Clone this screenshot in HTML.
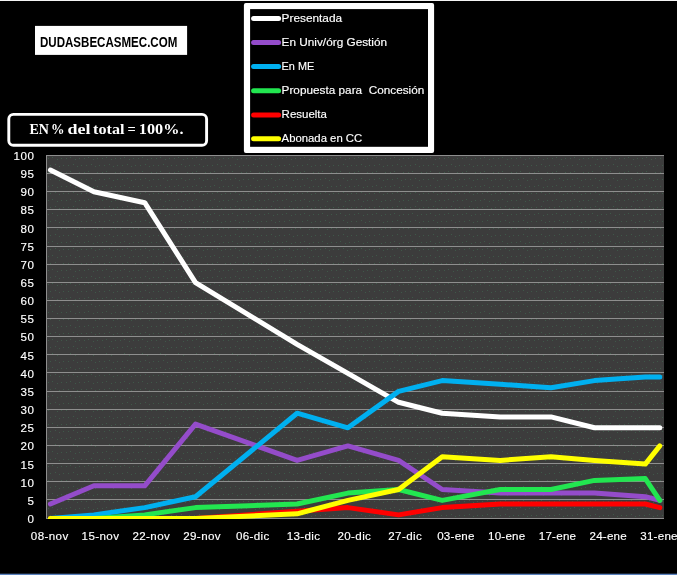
<!DOCTYPE html>
<html lang="es">
<head>
<meta charset="utf-8">
<title>dudasbecasmec.com - EN % del total</title>
<style>
html,body{margin:0;padding:0;background:#000;}
body{width:677px;height:575px;overflow:hidden;}
svg{display:block;}
.ax{font-family:"Liberation Sans",sans-serif;font-size:11.6px;fill:#fff;stroke:#fff;stroke-width:.15;}
.lg{white-space:pre;font-family:"Liberation Sans",sans-serif;font-size:10.9px;fill:#fff;stroke:#fff;stroke-width:.15;}
.ttl{font-family:"Liberation Sans",sans-serif;font-weight:bold;font-size:15.2px;fill:#000;}
.pct{font-family:"Liberation Serif",serif;font-weight:bold;font-size:14.6px;fill:#fff;}
.ln{fill:none;stroke-width:5;stroke-linejoin:round;stroke-linecap:round;}
</style>
</head>
<body>
<svg width="677" height="575" viewBox="0 0 677 575">
<defs>
<pattern id="dots" x="46" y="155" width="18" height="14" patternUnits="userSpaceOnUse">
<rect width="18" height="14" fill="#3c3c3c"/>
<rect x="2" y="3" width="1" height="1" fill="#437a58" fill-opacity=".45"/>
<rect x="6" y="2" width="1" height="1" fill="#437a58" fill-opacity=".45"/>
<rect x="11" y="4" width="1" height="1" fill="#437a58" fill-opacity=".45"/>
<rect x="15" y="3" width="1" height="1" fill="#437a58" fill-opacity=".45"/>
<rect x="4" y="10" width="1" height="1" fill="#437a58" fill-opacity=".45"/>
<rect x="9" y="9" width="1" height="1" fill="#437a58" fill-opacity=".45"/>
<rect x="13" y="11" width="1" height="1" fill="#437a58" fill-opacity=".45"/>
<rect x="17" y="10" width="1" height="1" fill="#437a58" fill-opacity=".45"/>
</pattern>
</defs>
<rect x="0" y="0" width="677" height="575" fill="#000"/>
<rect x="0" y="0" width="677" height="1" fill="#f4f4f4"/>
<rect x="0" y="573.7" width="677" height="1.3" fill="#5a82be"/>

<rect x="46" y="155" width="618" height="364" fill="url(#dots)"/>
<path d="M46 518.5H664M46 499.5H664M46 481.5H664M46 463.5H664M46 445.5H664M46 427.5H664M46 409.5H664M46 391.5H664M46 372.5H664M46 354.5H664M46 336.5H664M46 318.5H664M46 300.5H664M46 282.5H664M46 264.5H664M46 246.5H664M46 227.5H664M46 209.5H664M46 191.5H664M46 173.5H664M46 155.5H664" stroke="#8e8e8e" stroke-width="1" fill="none"/>
<path d="M46.5 155V519" stroke="#8e8e8e" stroke-width="1" fill="none"/>
<g class="ax" text-anchor="end">
<text x="33.9" y="523.0" textLength="6.5" lengthAdjust="spacing">0</text>
<text x="33.9" y="504.8" textLength="6.5" lengthAdjust="spacing">5</text>
<text x="33.9" y="486.6" textLength="13.4" lengthAdjust="spacing">10</text>
<text x="33.9" y="468.5" textLength="13.4" lengthAdjust="spacing">15</text>
<text x="33.9" y="450.3" textLength="13.4" lengthAdjust="spacing">20</text>
<text x="33.9" y="432.2" textLength="13.4" lengthAdjust="spacing">25</text>
<text x="33.9" y="414.1" textLength="13.4" lengthAdjust="spacing">30</text>
<text x="33.9" y="395.9" textLength="13.4" lengthAdjust="spacing">35</text>
<text x="33.9" y="377.8" textLength="13.4" lengthAdjust="spacing">40</text>
<text x="33.9" y="359.6" textLength="13.4" lengthAdjust="spacing">45</text>
<text x="33.9" y="341.4" textLength="13.4" lengthAdjust="spacing">50</text>
<text x="33.9" y="323.3" textLength="13.4" lengthAdjust="spacing">55</text>
<text x="33.9" y="305.2" textLength="13.4" lengthAdjust="spacing">60</text>
<text x="33.9" y="287.0" textLength="13.4" lengthAdjust="spacing">65</text>
<text x="33.9" y="268.8" textLength="13.4" lengthAdjust="spacing">70</text>
<text x="33.9" y="250.7" textLength="13.4" lengthAdjust="spacing">75</text>
<text x="33.9" y="232.6" textLength="13.4" lengthAdjust="spacing">80</text>
<text x="33.9" y="214.4" textLength="13.4" lengthAdjust="spacing">85</text>
<text x="33.9" y="196.2" textLength="13.4" lengthAdjust="spacing">90</text>
<text x="33.9" y="178.1" textLength="13.4" lengthAdjust="spacing">95</text>
<text x="33.9" y="159.9" textLength="20.3" lengthAdjust="spacing">100</text>
</g>
<g class="ax" text-anchor="middle">
<text x="49.5" y="539.9" textLength="37.4" lengthAdjust="spacing">08-nov</text>
<text x="100.3" y="539.9" textLength="37.4" lengthAdjust="spacing">15-nov</text>
<text x="151.1" y="539.9" textLength="37.4" lengthAdjust="spacing">22-nov</text>
<text x="201.9" y="539.9" textLength="37.4" lengthAdjust="spacing">29-nov</text>
<text x="252.6" y="539.9" textLength="33.4" lengthAdjust="spacing">06-dic</text>
<text x="303.4" y="539.9" textLength="33.4" lengthAdjust="spacing">13-dic</text>
<text x="354.2" y="539.9" textLength="33.4" lengthAdjust="spacing">20-dic</text>
<text x="405.0" y="539.9" textLength="33.4" lengthAdjust="spacing">27-dic</text>
<text x="455.8" y="539.9" textLength="37.3" lengthAdjust="spacing">03-ene</text>
<text x="506.6" y="539.9" textLength="37.3" lengthAdjust="spacing">10-ene</text>
<text x="557.4" y="539.9" textLength="37.3" lengthAdjust="spacing">17-ene</text>
<text x="608.1" y="539.9" textLength="37.3" lengthAdjust="spacing">24-ene</text>
<text x="658.9" y="539.9" textLength="37.3" lengthAdjust="spacing">31-ene</text>
</g>
<clipPath id="pc"><rect x="46" y="150" width="620" height="369"/></clipPath>
<g class="ln" clip-path="url(#pc)">
<polyline points="50.4,170.0 93.9,191.8 144.7,202.7 195.5,282.6 297.1,344.3 347.9,373.3 398.6,402.3 442.2,413.2 500.2,416.9 551.0,416.9 594.5,427.8 645.3,427.8 659.8,427.8" stroke="#ffffff"/>
<polyline points="50.4,504.0 93.9,485.8 144.7,485.8 195.5,424.1 297.1,460.4 347.9,445.9 398.6,460.4 442.2,489.5 500.2,493.1 551.0,493.1 594.5,493.1 645.3,496.7 659.8,500.4" stroke="#944cca"/>
<polyline points="50.4,518.5 93.9,514.9 144.7,507.6 195.5,496.7 297.1,413.2 347.9,427.8 398.6,391.4 442.2,380.6 500.2,384.2 551.0,387.8 594.5,380.6 645.3,376.9 659.8,376.9" stroke="#00b0f0"/>
<polyline points="50.4,518.5 93.9,518.5 144.7,514.9 195.5,507.6 297.1,504.0 347.9,493.1 398.6,489.5 442.2,500.4 500.2,489.5 551.0,489.5 594.5,480.4 645.3,478.6 659.8,500.4" stroke="#22e650"/>
<polyline points="50.4,518.5 93.9,518.5 144.7,518.5 195.5,518.5 297.1,511.2 347.9,507.6 398.6,514.9 442.2,507.6 500.2,504.0 551.0,504.0 594.5,504.0 645.3,504.0 659.8,507.6" stroke="#ff0000"/>
<polyline points="50.4,518.5 93.9,518.5 144.7,518.5 195.5,518.5 297.1,513.8 347.9,500.4 398.6,489.5 442.2,456.8 500.2,460.4 551.0,456.8 594.5,460.4 645.3,464.1 659.8,445.9" stroke="#ffff00"/>
</g>
<rect x="35" y="25.9" width="152.1" height="29" fill="#fff"/>
<text class="ttl" x="40" y="47.1" textLength="137.3" lengthAdjust="spacingAndGlyphs">DUDASBECASMEC.COM</text>
<rect x="8.8" y="114.35" width="197.8" height="30.95" rx="4.6" ry="4.6" fill="#000" stroke="#fff" stroke-width="2.9"/>
<g class="pct">
<text x="29.50" y="133.5" textLength="19.50" lengthAdjust="spacingAndGlyphs">EN</text>
<text x="51.10" y="133.5" textLength="13.50" lengthAdjust="spacingAndGlyphs">%</text>
<text x="67.40" y="133.5" textLength="23.00" lengthAdjust="spacingAndGlyphs">del</text>
<text x="93.10" y="133.5" textLength="31.40" lengthAdjust="spacingAndGlyphs">total</text>
<text x="127.55" y="133.5" textLength="8.25" lengthAdjust="spacingAndGlyphs">=</text>
<text x="138.85" y="133.5" textLength="44.65" lengthAdjust="spacingAndGlyphs">100%.</text>
</g>
<rect x="243.9" y="2.9" width="190.2" height="150.05" rx="2" ry="2" fill="#fff"/><rect x="250.1" y="9.1" width="177.9" height="137.7" fill="#000"/>
<g class="ln" style="stroke-width:5">
<path d="M253.6 18.5H278.6" stroke="#ffffff"/>
<path d="M253.6 42.5H278.6" stroke="#944cca"/>
<path d="M253.6 66.6H278.6" stroke="#00b0f0"/>
<path d="M253.6 90.8H278.6" stroke="#22e650"/>
<path d="M253.6 115.0H278.6" stroke="#ff0000"/>
<path d="M253.6 138.8H278.6" stroke="#ffff00"/>
</g>
<g class="lg">
<text x="281.6" y="21.7" textLength="60.5" lengthAdjust="spacingAndGlyphs" xml:space="preserve">Presentada</text>
<text x="281.6" y="45.7" textLength="105.5" lengthAdjust="spacingAndGlyphs" xml:space="preserve">En Univ/órg Gestión</text>
<text x="281.6" y="69.8" textLength="32.6" lengthAdjust="spacingAndGlyphs" xml:space="preserve">En ME</text>
<text x="281.6" y="94.0" textLength="142.7" lengthAdjust="spacingAndGlyphs" xml:space="preserve">Propuesta para  Concesión</text>
<text x="281.6" y="118.2" textLength="45.3" lengthAdjust="spacingAndGlyphs" xml:space="preserve">Resuelta</text>
<text x="281.6" y="142.0" textLength="80.6" lengthAdjust="spacingAndGlyphs" xml:space="preserve">Abonada en CC</text>
</g>
</svg>
</body>
</html>
